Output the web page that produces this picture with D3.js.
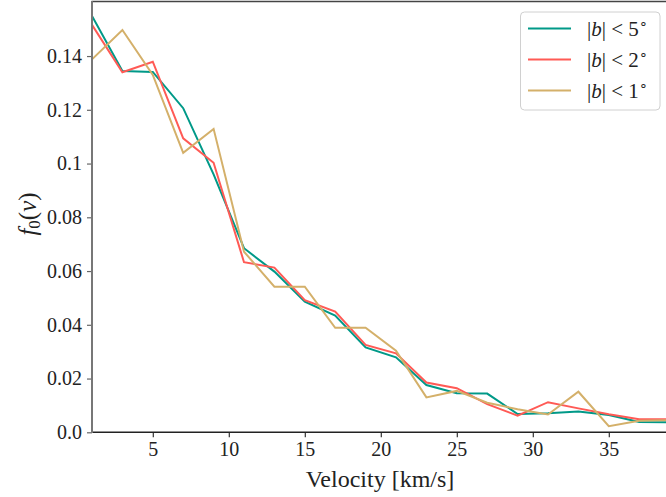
<!DOCTYPE html>
<html><head><meta charset="utf-8">
<script src="https://cdn.jsdelivr.net/npm/d3@7"></script>
<style>body{margin:0;background:#fff;overflow:hidden}svg{display:block}</style>
</head><body>
<script>
const velocity = [1,3,5,7,9,11,13,15,17,19,21,23,25,27,29,31,33,35,37,39];
const b5 = [0.1549,0.1344,0.1341,0.1206,0.0960,0.0685,0.0598,0.0486,0.0434,0.0316,0.0279,0.0176,0.0145,0.0144,0.0068,0.0071,0.0077,0.0064,0.0038,0.0037];
const b2 = [0.1516,0.1340,0.1379,0.1094,0.1003,0.0633,0.0613,0.0492,0.0449,0.0325,0.0294,0.0185,0.0164,0.0105,0.0062,0.0112,0.0089,0.0067,0.0049,0.0049];
const b1 = [0.1388,0.1497,0.1330,0.1040,0.1129,0.0672,0.0542,0.0542,0.0389,0.0389,0.0304,0.0130,0.0154,0.0110,0.0086,0.0066,0.0151,0.0023,0.0043,0.0045];
const seriesNames = ["5","2","1"];
const colors = ["#009988","#ff5a55","#d4b06a"];
const xTicks = [5,10,15,20,25,30,35];
const yTicks = [0,0.02,0.04,0.06,0.08,0.1,0.12,0.14];
const yTickLabels = ["0.0","0.02","0.04","0.06","0.08","0.1","0.12","0.14"];

// pick first installed serif font
const candidates=["Liberation Serif","DejaVu Serif","Times New Roman","Noto Serif","Tinos","FreeSerif","Nimbus Roman","Georgia"];
const cv=document.createElement("canvas").getContext("2d");
function w(f){cv.font="40px "+f;return cv.measureText("Velocity 0.123 |b| mmmWWiil").width;}
const base1=w("monospace"), base2=w("sans-serif");
let chosen=null;
for(const c of candidates){ if(w("'"+c+"', monospace")!==base1 && w("'"+c+"', sans-serif")!==base2){chosen=c;break;} }
const font=(chosen?"'"+chosen+"', ":"")+"serif";
document.head.insertAdjacentHTML("beforeend","<style>svg text{font-family:"+font+"}</style>");

const W=666,H=497;
const svg=d3.select("body").append("svg").attr("width",W).attr("height",H);
const x=d3.scaleLinear().domain([1,39]).range([92,669.6]);
const y=d3.scaleLinear().domain([0,0.16]).range([432.3,2.3]);

svg.append("clipPath").attr("id","c").append("rect")
  .attr("x",92).attr("y",2).attr("width",580).attr("height",431);

const series=[b5,b2,b1];
const line=d3.line().x((d,i)=>x(velocity[i])).y(d=>y(d));
const g=svg.append("g").attr("clip-path","url(#c)");
series.forEach((s,k)=>{
  g.append("path").datum(s).attr("d",line).attr("fill","none")
   .attr("stroke",colors[k]).attr("stroke-width",2).attr("stroke-linejoin","miter");
});

const xa=svg.append("g").attr("transform","translate(0,432.3)")
  .call(d3.axisBottom(x).tickValues(xTicks).tickSize(5).tickPadding(5).tickFormat(d3.format("d")));
xa.attr("font-family",null).attr("font-size",null);
xa.select(".domain").remove();
xa.selectAll("line").attr("stroke","#333").attr("stroke-width",1.2);
xa.selectAll("text").style("font-size","20px").attr("fill","#222");
const ya=svg.append("g").attr("transform","translate(92,0)")
  .call(d3.axisLeft(y).tickValues(yTicks).tickSize(5).tickPadding(5).tickFormat((d,i)=>yTickLabels[i]));
ya.attr("font-family",null).attr("font-size",null);
ya.select(".domain").remove();
ya.selectAll("line").attr("stroke","#666").attr("stroke-width",1.2);
ya.selectAll("text").style("font-size","20px").attr("fill","#222");

svg.append("line").attr("x1",91.5).attr("x2",700).attr("y1",432.3).attr("y2",432.3).attr("stroke","#222").attr("stroke-width",1.5);
svg.append("line").attr("x1",91.5).attr("x2",700).attr("y1",1.5).attr("y2",1.5).attr("stroke","#444").attr("stroke-width",1.5);
svg.append("line").attr("x1",92).attr("x2",92).attr("y1",1).attr("y2",433).attr("stroke","#777").attr("stroke-width",2);

svg.append("text").attr("x",380).attr("y",487).attr("text-anchor","middle")
  .style("font-size","24px").attr("fill","#222").text("Velocity [km/s]");
const yl=svg.append("text").attr("transform","translate(36,214) rotate(-90)").attr("text-anchor","middle")
  .style("font-size","25px").attr("fill","#222");
yl.append("tspan").attr("font-style","italic").text("f");
yl.append("tspan").style("font-size","17px").attr("dy",4).text("0");
yl.append("tspan").attr("dy",-4).text("(");
yl.append("tspan").attr("font-style","italic").text("v");
yl.append("tspan").text(")");

const lg=svg.append("g");
lg.append("rect").attr("x",520.5).attr("y",12).attr("width",139.5).attr("height",98).attr("rx",4)
  .attr("fill","#fff").attr("fill-opacity",0.8).attr("stroke","#d0d0d0").attr("stroke-width",1);
seriesNames.forEach((n,k)=>{
  const yy=28.5+k*31;
  lg.append("line").attr("x1",528).attr("x2",571).attr("y1",yy).attr("y2",yy)
    .attr("stroke",colors[k]).attr("stroke-width",2);
  const t=lg.append("text").attr("x",587).attr("y",yy+7).style("font-size","21px").attr("fill","#222");
  t.append("tspan").text("|");
  t.append("tspan").attr("font-style","italic").text("b");
  t.append("tspan").text("| < "+n);
  t.append("tspan").style("font-size","14px").attr("dy",-8).text("∘");
});
</script>
</body></html>
